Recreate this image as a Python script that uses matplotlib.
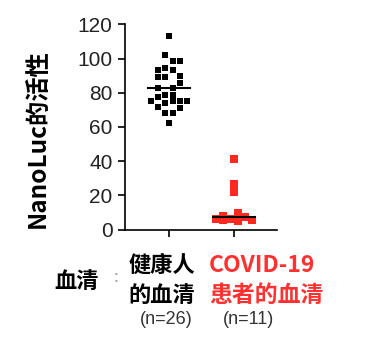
import matplotlib.pyplot as plt
import numpy as np

plt.rcParams['font.family'] = ['Noto Sans CJK SC', 'DejaVu Sans']

# NanoLuc activity, healthy donors (n=26) and COVID-19 patients (n=11)
healthy = [113.4, 102.3, 98.6, 98.6, 94.7, 93.1, 93.1, 89.8, 88.9, 88.9,
           85.4, 82.8, 82.8, 78.5, 78.5, 77.6, 75.0, 75.0, 75.0, 75.0,
           73.7, 71.7, 70.8, 67.9, 67.9, 62.0]
healthy_slot = [0, -0.5, 0.5, 1.5, -0.5, -1.5, 0.5, 1.5, -1.5, -0.5,
                1.5, -1.5, 0.5, -0.5, 0.5, -1.5, -2.5, 0.5, 1.5, 2.5,
                -0.5, -1.5, 1.5, -0.5, 0.5, 0]
covid = [41.0, 26.4, 22.1, 9.5, 8.0, 7.5, 6.0, 6.0, 5.5, 5.5, 5.0]
covid_slot = [0, 0, 0, 0.5, -1.5, 1.5, -2.5, -0.5, 2.5, -1.5, 0.5]
center_lines = [82.8, 7.5]

yticks = [0, 20, 40, 60, 80, 100, 120]

W, H = 392, 353
fig = plt.figure(figsize=(W / 100, H / 100), dpi=100)
ax = fig.add_axes([125 / W, 1 - 229.5 / H, 152 / W, 205.2 / H])

step = 0.111
hx = 1 + np.array(healthy_slot) * step
cx = 2 + np.array(covid_slot) * step
ax.scatter(hx, healthy, marker='s', s=3.9 ** 2, color='black', linewidths=0, zorder=3)
ax.scatter(cx, covid, marker='s', s=5.6 ** 2, color='#ff2a1f', linewidths=0, zorder=3)

for i, m in enumerate(center_lines):
    ax.plot([i + 1 - 0.33, i + 1 + 0.33], [m, m], color='black', lw=1.5, zorder=4)

ax.set_xlim(0.323, 2.662)
ax.set_ylim(0, 120)
ax.set_yticks(yticks)
ax.set_xticks([1, 2])
ax.set_xticklabels(['', ''])
for s in ['top', 'right']:
    ax.spines[s].set_visible(False)
for s in ['left', 'bottom']:
    ax.spines[s].set_linewidth(1.2)
ax.tick_params(axis='y', length=5, width=1.2, pad=4, labelsize=15, labelcolor='#222222')
ax.tick_params(axis='x', length=5, width=1.2)
for lbl in ax.get_yticklabels():
    lbl.set_family(['Liberation Sans', 'DejaVu Sans'])

fig.text(38 / W, 1 - 139 / H, 'NanoLuc的活性', rotation=90, ha='center', va='center',
         fontsize=17.5, fontweight='bold')


def px(x, y):
    return x / W, 1 - y / H


red = '#ff3030'
fig.text(*px(77, 281), '血清', ha='center', va='center', fontsize=16, fontweight='bold')
fig.text(*px(116, 278), ':', ha='center', va='center', fontsize=12, color='#999999')
fig.text(*px(162, 265), '健康人', ha='center', va='center', fontsize=16, fontweight='bold')
fig.text(*px(162, 295), '的血清', ha='center', va='center', fontsize=16, fontweight='bold')
fig.text(*px(262, 265), 'COVID-19', ha='center', va='center', fontsize=16.5,
         fontweight='bold', color=red)
fig.text(*px(266, 295), '患者的血清', ha='center', va='center', fontsize=16.5,
         fontweight='bold', color=red)
fig.text(*px(166, 320), '(n=26)', ha='center', va='center', fontsize=13,
         color='#333333', family=['Liberation Sans', 'DejaVu Sans'])
fig.text(*px(249, 320), '(n=11)', ha='center', va='center', fontsize=13,
         color='#333333', family=['Liberation Sans', 'DejaVu Sans'])

fig.savefig('out.png', dpi=100)
